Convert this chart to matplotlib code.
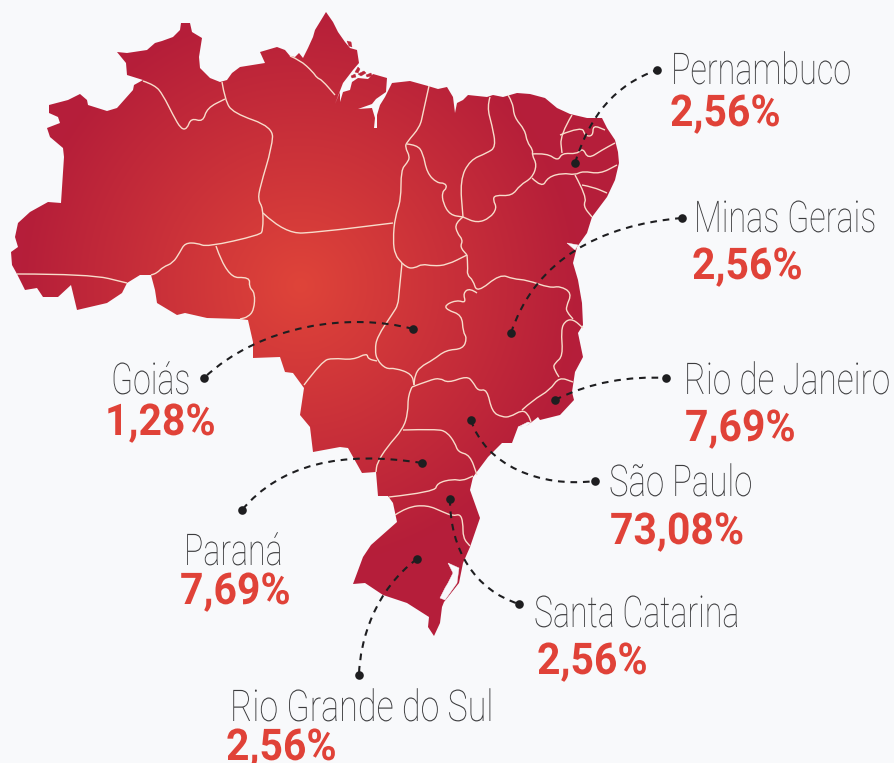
import numpy as np
import matplotlib
matplotlib.use("Agg")
import matplotlib.pyplot as plt
from matplotlib.patches import Polygon, PathPatch
from matplotlib.patheffects import AbstractPathEffect
from matplotlib.path import Path
from matplotlib.transforms import Affine2D

BG = "#f8f9fb"
RED = "#e04238"
GREY = "#3c3c3e"
BORDER = "#f8dccb"
DARK = "#1e1e20"

states = ["Pernambuco", "Minas Gerais", "Rio de Janeiro", "São Paulo",
          "Santa Catarina", "Rio Grande do Sul", "Paraná", "Goiás"]
shares = ["2,56%", "2,56%", "7,69%", "73,08%", "2,56%", "2,56%", "7,69%", "1,28%"]
name_xy = [(671, 84), (694, 232), (684, 394), (609, 496), (534, 627), (230, 721), (184, 565), (111, 394)]
share_xy = [(670, 126), (692, 279), (685, 441), (610, 544), (537, 674), (226, 760), (180, 604), (105, 435)]
name_narrow = [0.74, 0.74, 0.765, 0.755, 0.735, 0.78, 0.735, 0.735]
share_narrow = 0.935

# leader curves: map dot, control, control, label dot
leaders = [
    [(575, 163), (590, 115), (615, 85), (657, 70)],
    [(511, 333), (535, 260), (600, 225), (682, 218)],
    [(555, 400), (590, 382), (630, 376), (666, 378)],
    [(471, 420), (485, 465), (540, 488), (595, 481)],
    [(450, 499), (450, 550), (475, 590), (519, 604)],
    [(417, 559), (375, 590), (360, 640), (359, 675)],
    [(422, 463), (340, 450), (280, 465), (242, 510)],
    [(413, 329), (350, 312), (260, 325), (204, 378)],
]

outline = [
    (117, 52), (127, 53), (147, 50), (155, 43), (162, 41), (173, 37), (180, 30), (181, 23), (190, 23), (192, 32),
    (202, 38), (199, 57), (200, 68), (210, 78), (220, 82), (227, 80), (232, 73), (240, 67), (265, 63), (260, 52),
    (277, 47), (285, 50), (290, 56), (295, 57), (299, 53), (303, 58), (308, 48), (313, 37), (315, 30), (326, 12),
    (333, 22), (338, 32), (345, 42), (350, 48), (357, 50), (359, 63), (353, 70), (343, 83), (335, 104), (340, 92),
    (340, 102), (343, 92), (350, 90), (352, 82), (358, 78), (368, 79), (373, 74), (387, 78), (386, 92), (376, 99),
    (372, 104), (358, 109), (372, 108), (375, 118), (374, 128), (377, 128), (377, 115), (380, 105), (385, 97), (392, 83),
    (410, 81), (428, 86), (438, 89), (447, 87), (453, 97), (455, 113), (457, 103), (463, 100), (468, 95), (487, 97),
    (493, 95), (503, 97), (517, 93), (530, 94), (545, 98), (557, 108), (570, 114), (587, 118), (602, 118), (607, 128),
    (615, 140), (618, 152), (619, 163), (615, 180), (607, 197), (592, 217), (587, 233), (577, 247), (573, 263), (578, 280),
    (582, 303), (583, 325), (578, 333), (583, 357), (575, 372), (572, 392), (574, 400), (560, 415), (540, 420), (538, 417),
    (528, 425), (518, 427), (512, 443), (502, 443), (488, 457), (473, 477), (470, 490), (480, 518), (470, 547), (463, 563),
    (459, 583), (448, 597), (444, 602), (442, 607), (440, 623), (434, 636), (428, 627), (429, 617), (407, 603), (383, 595),
    (365, 583), (353, 584), (363, 557), (371, 545), (397, 522), (393, 503), (388, 496), (378, 496), (376, 472), (362, 473),
    (348, 448), (340, 447), (313, 452), (310, 427), (300, 415), (304, 388), (293, 373), (285, 372), (280, 357), (253, 358),
    (253, 342), (248, 320), (240, 319), (207, 318), (185, 313), (177, 315), (157, 303), (155, 290), (151, 275), (140, 275),
    (127, 283), (122, 293), (107, 303), (77, 310), (71, 285), (58, 297), (43, 297), (37, 288), (25, 290), (17, 274),
    (12, 265), (11, 252), (18, 247), (15, 237), (18, 223), (30, 212), (48, 202), (61, 203), (64, 157), (63, 148),
    (50, 137), (47, 128), (60, 123), (58, 117), (49, 113), (49, 105), (68, 100), (80, 94), (87, 100), (88, 105),
    (107, 111), (117, 108), (133, 90), (134, 85), (143, 80), (127, 75), (126, 63),
]

# small islands off the Amazon mouth and Amapá
islands = [
    [(347, 41), (351, 42), (352, 47), (349, 46)],
    [(355, 72), (358, 67), (360, 69), (358, 73)],
    [(358, 74), (364, 71), (366, 73), (361, 76)],
    [(366, 75), (371, 73), (372, 76), (367, 77)],
    [(351, 76), (355, 74), (356, 77), (352, 78)],
]

# water cut out of the land (bays, Lagoa dos Patos)
water = [
    [(567, 243), (578, 245), (575, 250)],
    [(448, 563), (459, 568), (457, 583), (445, 600), (440, 598), (445, 588), (448, 583), (453, 573)],
    [(518, 427), (528, 422), (531, 423), (526, 426)],
]

borders = [
    [(17, 274), (90, 274), (127, 283)],
    [(143, 81), (155, 85), (163, 95), (173, 115), (181, 129), (187, 129), (191, 118), (203, 122), (207, 108), (225, 99)],
    [(222, 82), (225, 100), (233, 113), (273, 127), (272, 147), (260, 187), (258, 200), (263, 208), (263, 230), (260, 235),
     (207, 247), (197, 243), (185, 243), (180, 252), (173, 263), (163, 267), (157, 273), (151, 275)],
    [(216, 246), (227, 278), (250, 277), (249, 287), (255, 293), (254, 310), (248, 317), (240, 319)],
    [(263, 213), (285, 234), (320, 232), (393, 223)],
    [(290, 56), (300, 60), (313, 72), (317, 78), (322, 80), (335, 95)],
    [(429, 86), (423, 113), (420, 127), (407, 142), (405, 147), (410, 157), (407, 163), (401, 170), (401, 200), (395, 217),
     (393, 240), (395, 255), (402, 263)],
    [(407, 144), (417, 145), (423, 153), (427, 173), (437, 183), (445, 183), (447, 188), (442, 192), (443, 203), (450, 215), (463, 217)],
    [(463, 217), (455, 223), (457, 233), (463, 240), (460, 247), (467, 255)],
    [(402, 263), (407, 268), (415, 268), (422, 264), (433, 266), (447, 265), (467, 255)],
    [(467, 255), (468, 267), (467, 275), (473, 280), (477, 293), (500, 274), (513, 279), (527, 280), (550, 288), (560, 286),
     (572, 293), (566, 307), (567, 312), (573, 319)],
    [(477, 293), (470, 288), (463, 293), (466, 303), (457, 300), (445, 305), (447, 310), (462, 315), (463, 332), (467, 338),
     (463, 349), (446, 350), (433, 360), (420, 367), (415, 375), (414, 385)],
    [(402, 263), (399, 293), (398, 305), (393, 313), (377, 337), (375, 350), (377, 360), (386, 369), (395, 368), (412, 374), (414, 385)],
    [(304, 385), (322, 361), (333, 358), (353, 360), (367, 353), (368, 359), (377, 361)],
    [(412, 387), (408, 395), (408, 413), (403, 429), (387, 447), (377, 463), (376, 472)],
    [(403, 430), (437, 429), (447, 432), (455, 443), (458, 452), (470, 455), (477, 475)],
    [(412, 387), (430, 380), (440, 378), (448, 383), (467, 376), (473, 382), (478, 391), (487, 389), (492, 412), (502, 417),
     (510, 417), (522, 410), (528, 414), (531, 422)],
    [(522, 410), (533, 400), (550, 390), (559, 377), (573, 382)],
    [(559, 377), (553, 368), (555, 363), (563, 356), (561, 330), (565, 321), (573, 319), (583, 328)],
    [(389, 497), (435, 492), (437, 483), (453, 479), (462, 481), (473, 476)],
    [(395, 515), (407, 507), (427, 505), (443, 512), (453, 516), (460, 514), (463, 522), (463, 538), (470, 546)],
    [(490, 97), (487, 107), (492, 125), (496, 147), (487, 153), (470, 160), (460, 180), (463, 217)],
    [(508, 95), (513, 103), (514, 117), (525, 130), (527, 142), (533, 150), (532, 155), (537, 165), (532, 178), (520, 185),
     (512, 196), (495, 195), (493, 200), (497, 208), (490, 218), (477, 223), (463, 217)],
    [(532, 154), (547, 153), (558, 161), (562, 153), (577, 154), (583, 148), (588, 159), (602, 150), (615, 143)],
    [(572, 115), (560, 135), (562, 153)],
    [(560, 135), (582, 126), (585, 136), (593, 136), (593, 125), (605, 130)],
    [(532, 178), (542, 188), (548, 177), (563, 173), (575, 175), (583, 171), (600, 174), (617, 165)],
    [(575, 175), (587, 197), (583, 206), (592, 217)],
    [(582, 185), (593, 187), (607, 193)],
]

FONT_SIZE = 31.5


class Tall(AbstractPathEffect):
    # stretch glyphs upward from the baseline, there is no condensed font installed
    def __init__(self, sy):
        super().__init__()
        self.sy = sy

    def draw_path(self, renderer, gc, tpath, affine, rgbFace=None):
        renderer.draw_path(gc, tpath, Affine2D().scale(1, self.sy) + affine, rgbFace)


def put_text(ax, xy, s, narrow, **kw):
    t = ax.text(xy[0], xy[1], s, va="baseline", ha="left", zorder=6, family="Roboto",
                fontsize=FONT_SIZE * narrow, **kw)
    t.set_path_effects([Tall(1 / narrow)])


def smooth(pts):
    # quadratic curves through the segment midpoints
    pts = np.array(pts, dtype=float)
    verts = [pts[0]]
    codes = [Path.MOVETO]
    for i in range(1, len(pts) - 1):
        verts += [pts[i], (pts[i] + pts[i + 1]) / 2]
        codes += [Path.CURVE3, Path.CURVE3]
    verts.append(pts[-1])
    codes.append(Path.LINETO)
    return Path(verts, codes)


fig = plt.figure(figsize=(8.94, 7.63), dpi=100, facecolor=BG)
ax = fig.add_axes([0, 0, 1, 1])
ax.set_xlim(0, 894)
ax.set_ylim(763, 0)
ax.axis("off")

# radial fill of the map, clipped to the country
yy, xx = np.mgrid[0:763, 0:894]
r = np.clip(np.hypot(xx - 300, yy - 285) / 280, 0, 1)
inner = np.array([223, 68, 57]) / 255
outer = np.array([181, 30, 58]) / 255
img = inner + (outer - inner) * r[..., None]
land = Polygon(outline, closed=True, fc="none", ec="none")
ax.add_patch(land)
im = ax.imshow(img, extent=(0, 894, 763, 0), aspect="auto", interpolation="bilinear", zorder=1)
im.set_clip_path(land)

for w in water:
    ax.add_patch(Polygon(w, closed=True, fc=BG, ec=BG, lw=0.3, zorder=2))
for isl in islands:
    ax.add_patch(Polygon(isl, closed=True, fc="#bb2539", ec="#bb2539", lw=0.3, zorder=2))

for b in borders:
    ax.add_patch(PathPatch(smooth(b), fc="none", ec=BORDER, lw=1.0, zorder=3))

codes = [Path.MOVETO, Path.CURVE4, Path.CURVE4, Path.CURVE4]
for pts in leaders:
    ax.add_patch(PathPatch(Path(pts, codes), fc="none", ec=DARK, lw=1.5, ls=(0, (3.2, 2.8)), zorder=4))
    ax.plot([pts[0][0], pts[-1][0]], [pts[0][1], pts[-1][1]], ls="none", marker="o", ms=6.2,
            color=DARK, mec="none", zorder=5)

for name, share, nxy, sxy, nn in zip(states, shares, name_xy, share_xy, name_narrow):
    put_text(ax, nxy, name, nn, fontweight=100, color=GREY)
    put_text(ax, sxy, share, share_narrow, fontweight="bold", color=RED)

fig.savefig("out.png", dpi=100, facecolor=BG)
